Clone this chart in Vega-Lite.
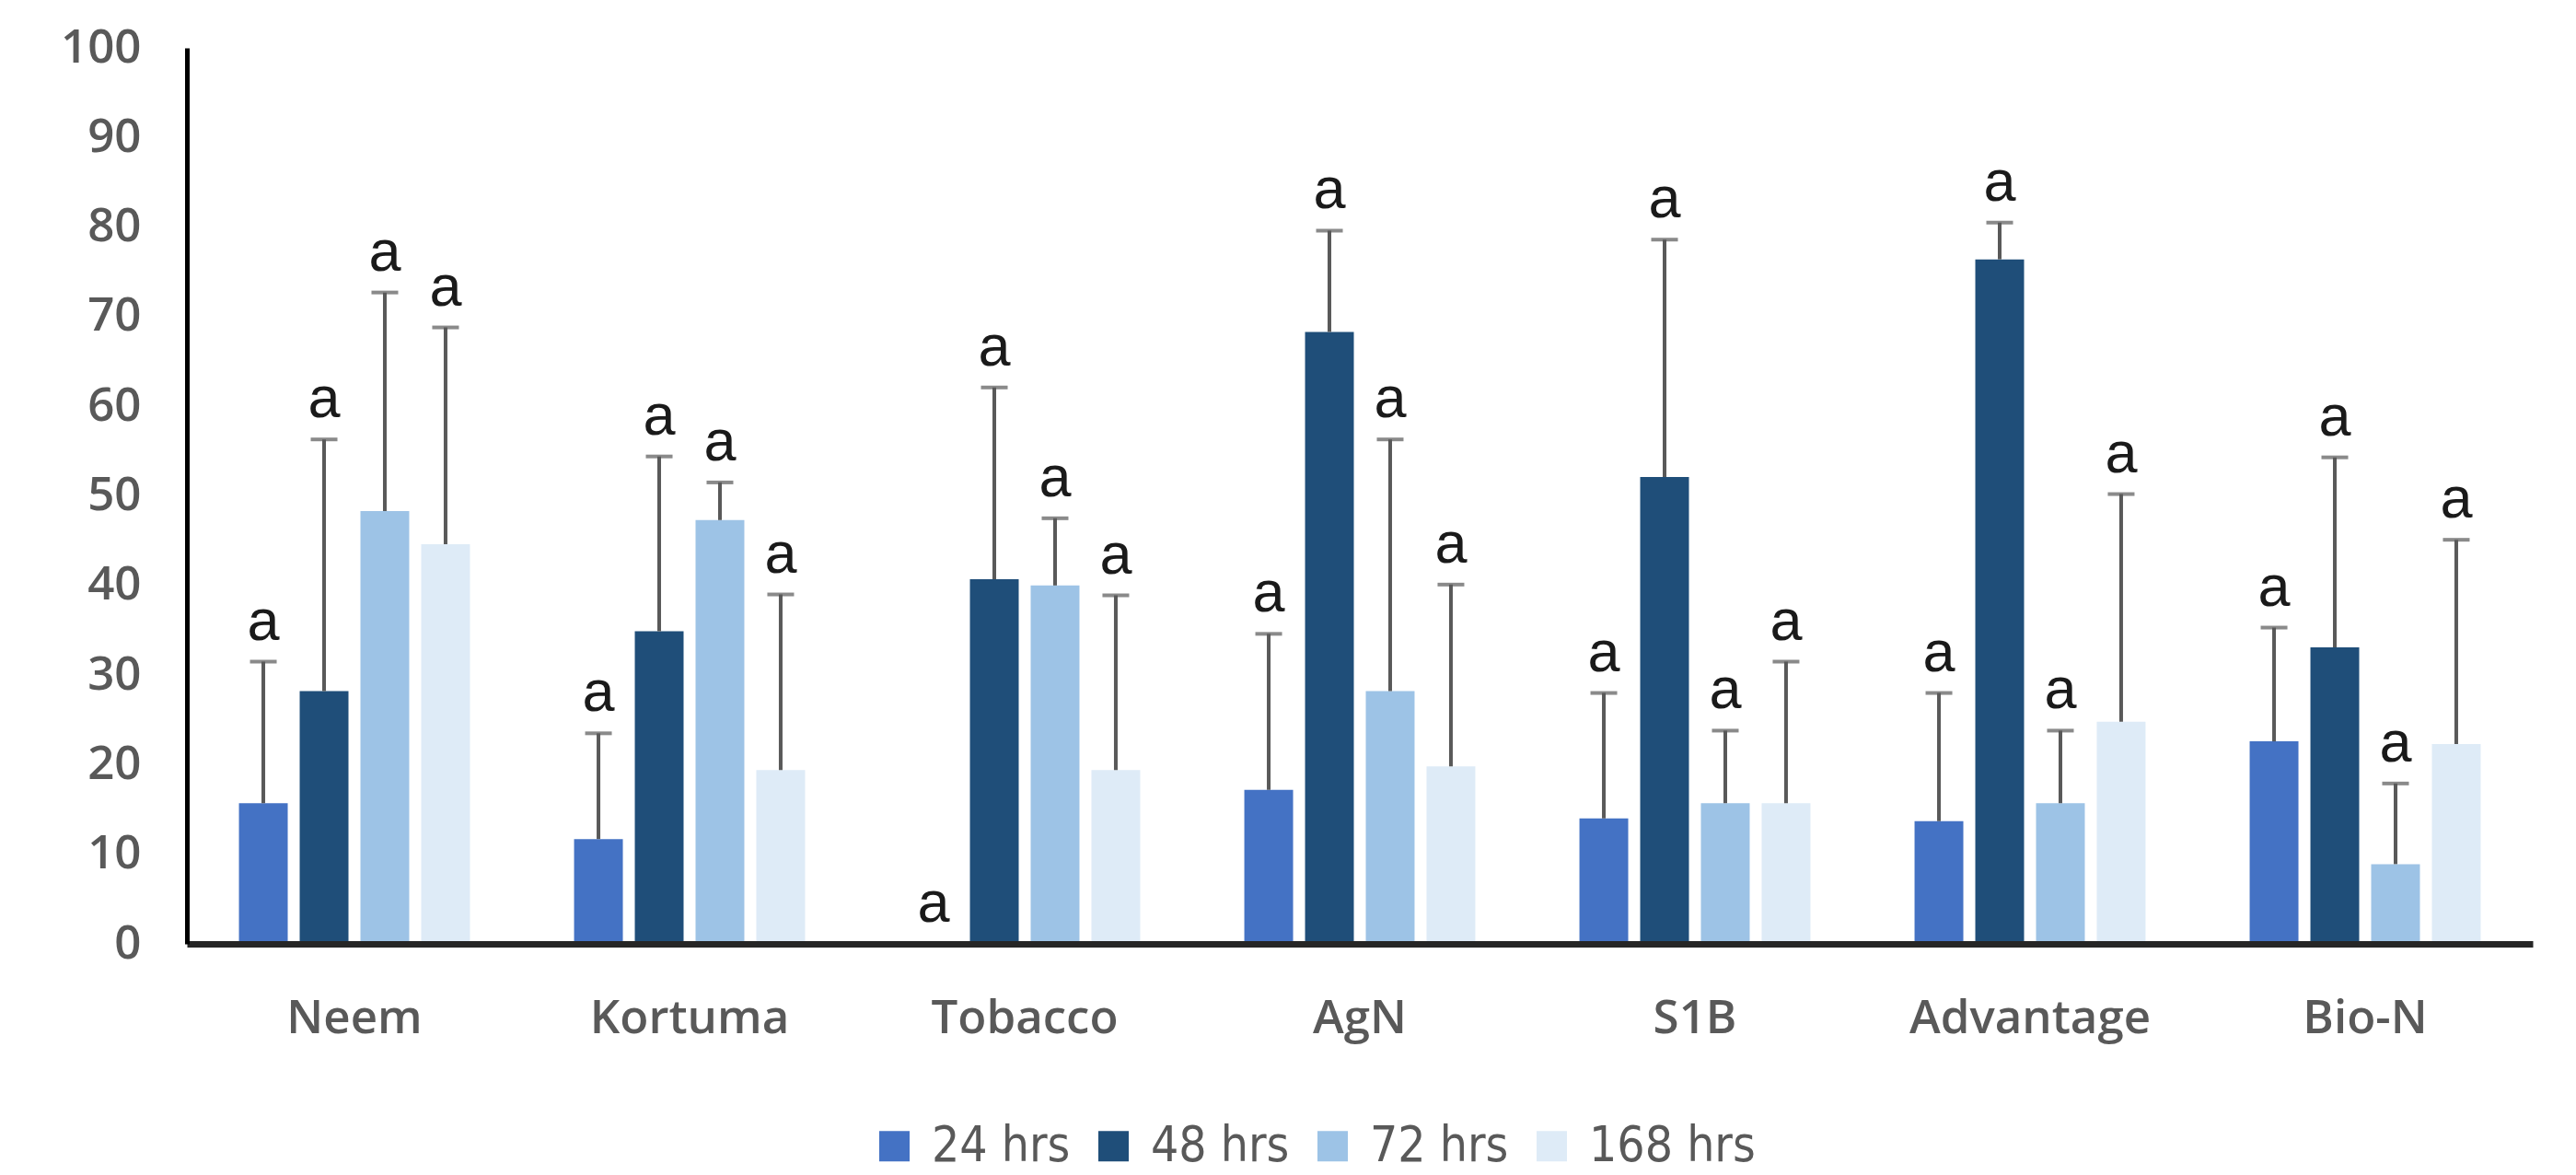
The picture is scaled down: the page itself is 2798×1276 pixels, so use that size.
{
  "$schema": "https://vega.github.io/schema/vega-lite/v6.json",
  "width": 2548,
  "height": 973,
  "autosize": {"type": "none"},
  "padding": {"left": 203, "top": 52, "right": 47, "bottom": 251},
  "background": "white",
  "config": {"view": {"stroke": null}},
  "data": {"values": [
    {"treatment": "Neem", "time": "24 hrs", "mean": 15.7, "upper": 31.5, "letter": "a"},
    {"treatment": "Neem", "time": "48 hrs", "mean": 28.2, "upper": 56.3, "letter": "a"},
    {"treatment": "Neem", "time": "72 hrs", "mean": 48.3, "upper": 72.7, "letter": "a"},
    {"treatment": "Neem", "time": "168 hrs", "mean": 44.6, "upper": 68.8, "letter": "a"},
    {"treatment": "Kortuma", "time": "24 hrs", "mean": 11.7, "upper": 23.5, "letter": "a"},
    {"treatment": "Kortuma", "time": "48 hrs", "mean": 34.9, "upper": 54.4, "letter": "a"},
    {"treatment": "Kortuma", "time": "72 hrs", "mean": 47.3, "upper": 51.5, "letter": "a"},
    {"treatment": "Kortuma", "time": "168 hrs", "mean": 19.4, "upper": 39.0, "letter": "a"},
    {"treatment": "Tobacco", "time": "24 hrs", "mean": 0, "upper": 0, "letter": "a"},
    {"treatment": "Tobacco", "time": "48 hrs", "mean": 40.7, "upper": 62.1, "letter": "a"},
    {"treatment": "Tobacco", "time": "72 hrs", "mean": 40.0, "upper": 47.5, "letter": "a"},
    {"treatment": "Tobacco", "time": "168 hrs", "mean": 19.4, "upper": 38.9, "letter": "a"},
    {"treatment": "AgN", "time": "24 hrs", "mean": 17.2, "upper": 34.6, "letter": "a"},
    {"treatment": "AgN", "time": "48 hrs", "mean": 68.3, "upper": 79.6, "letter": "a"},
    {"treatment": "AgN", "time": "72 hrs", "mean": 28.2, "upper": 56.3, "letter": "a"},
    {"treatment": "AgN", "time": "168 hrs", "mean": 19.8, "upper": 40.1, "letter": "a"},
    {"treatment": "S1B", "time": "24 hrs", "mean": 14.0, "upper": 28.0, "letter": "a"},
    {"treatment": "S1B", "time": "48 hrs", "mean": 52.1, "upper": 78.6, "letter": "a"},
    {"treatment": "S1B", "time": "72 hrs", "mean": 15.7, "upper": 23.8, "letter": "a"},
    {"treatment": "S1B", "time": "168 hrs", "mean": 15.7, "upper": 31.5, "letter": "a"},
    {"treatment": "Advantage", "time": "24 hrs", "mean": 13.7, "upper": 28.0, "letter": "a"},
    {"treatment": "Advantage", "time": "48 hrs", "mean": 76.4, "upper": 80.5, "letter": "a"},
    {"treatment": "Advantage", "time": "72 hrs", "mean": 15.7, "upper": 23.8, "letter": "a"},
    {"treatment": "Advantage", "time": "168 hrs", "mean": 24.8, "upper": 50.2, "letter": "a"},
    {"treatment": "Bio-N", "time": "24 hrs", "mean": 22.6, "upper": 35.3, "letter": "a"},
    {"treatment": "Bio-N", "time": "48 hrs", "mean": 33.1, "upper": 54.3, "letter": "a"},
    {"treatment": "Bio-N", "time": "72 hrs", "mean": 8.9, "upper": 17.9, "letter": "a"},
    {"treatment": "Bio-N", "time": "168 hrs", "mean": 22.3, "upper": 45.1, "letter": "a"}
  ]},
  "encoding": {
    "x": {
      "field": "treatment", "type": "nominal",
      "sort": ["Neem", "Kortuma", "Tobacco", "AgN", "S1B", "Advantage", "Bio-N"],
      "scale": {"paddingInner": 0.275, "paddingOuter": 0.1375},
      "axis": {
        "title": null, "labelAngle": 0, "ticks": false, "grid": false,
        "domainColor": "#262626", "domainWidth": 7, "zindex": 1,
        "labelFont": "Open Sans", "labelFontWeight": 600, "labelFontSize": 51,
        "labelColor": "#595959", "labelPadding": 56, "labelBaseline": "top", "labelLimit": 600
      }
    },
    "xOffset": {
      "field": "time", "type": "nominal",
      "sort": ["24 hrs", "48 hrs", "72 hrs", "168 hrs"],
      "scale": {"paddingInner": 0.197, "paddingOuter": 0.0985}
    }
  },
  "layer": [
    {
      "mark": {"type": "bar"},
      "encoding": {
        "y": {
          "field": "mean", "type": "quantitative",
          "scale": {"domain": [0, 100], "nice": false},
          "axis": {
            "title": null, "values": [0, 10, 20, 30, 40, 50, 60, 70, 80, 90, 100],
            "ticks": false, "grid": false, "domainColor": "#000000", "domainWidth": 5,
            "labelFont": "Open Sans", "labelFontWeight": 600, "labelFontSize": 51, "labelColor": "#595959",
            "labelPadding": 50, "zindex": 1
          }
        },
        "color": {
          "field": "time", "type": "nominal",
          "sort": ["24 hrs", "48 hrs", "72 hrs", "168 hrs"],
          "scale": {"domain": ["24 hrs", "48 hrs", "72 hrs", "168 hrs"], "range": ["#4472C4", "#1F4E79", "#9DC3E6", "#DEEBF7"]},
          "legend": {
            "title": null, "orient": "none", "direction": "horizontal",
            "legendX": 742, "legendY": 1166, "padding": 0,
            "symbolType": "square", "symbolSize": 1089, "symbolStrokeWidth": 0,
            "labelFont": "DejaVu Sans Condensed", "labelFontSize": 53, "labelColor": "#595959",
            "labelOffset": 14, "columnPadding": 20, "labelLimit": 600
          }
        }
      }
    },
    {
      "mark": {"type": "rule", "color": "#595959", "strokeWidth": 4},
      "encoding": {
        "y": {"field": "mean", "type": "quantitative"},
        "y2": {"field": "upper"}
      }
    },
    {
      "mark": {"type": "tick", "orient": "horizontal", "color": "#595959", "size": 29, "thickness": 4},
      "encoding": {
        "y": {"field": "upper", "type": "quantitative"}
      }
    },
    {
      "mark": {"type": "text", "font": "Liberation Sans", "fontSize": 63, "color": "#1a1a1a", "baseline": "alphabetic", "align": "center", "dy": -24},
      "encoding": {
        "y": {"field": "upper", "type": "quantitative"},
        "text": {"field": "letter"}
      }
    }
  ]
}
